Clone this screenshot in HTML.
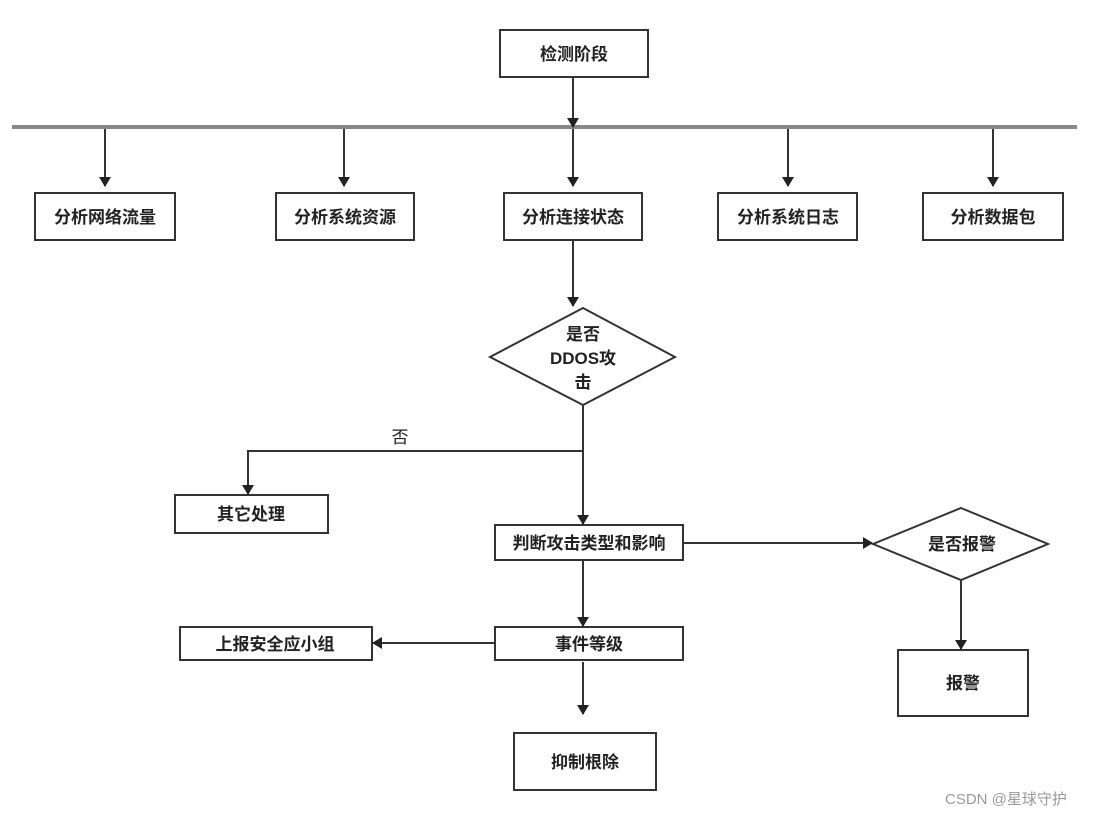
<!DOCTYPE html>
<html><head><meta charset="utf-8"><style>
body{margin:0;background:#fff}
text{font-family:"Liberation Sans","Noto Sans CJK SC",sans-serif;font-weight:bold;font-size:17px;fill:#222}
</style></head><body>
<svg width="1113" height="816" viewBox="0 0 1113 816" xmlns="http://www.w3.org/2000/svg">
<defs><marker id="a" markerWidth="10" markerHeight="12" refX="9" refY="6" orient="auto" markerUnits="userSpaceOnUse"><path d="M0,0 L10,6 L0,12 z" fill="#222"/></marker></defs>
<g stroke="#333" stroke-width="2" fill="#fff">
<rect x="500" y="30" width="148" height="47"/>
<rect x="35" y="193" width="140" height="47"/>
<rect x="276" y="193" width="138" height="47"/>
<rect x="504" y="193" width="138" height="47"/>
<rect x="718" y="193" width="139" height="47"/>
<rect x="923" y="193" width="140" height="47"/>
<polygon points="583,308 675,357 583,405 490,357"/>
<rect x="175" y="495" width="153" height="38"/>
<rect x="495" y="525" width="188" height="35"/>
<polygon points="961,508 1048,544 961,580 873,544"/>
<rect x="898" y="650" width="130" height="66"/>
<rect x="495" y="627" width="188" height="33"/>
<rect x="180" y="627" width="192" height="33"/>
<rect x="514" y="733" width="142" height="57"/>
</g>
<line x1="12" y1="127" x2="1077" y2="127" stroke="#888" stroke-width="4"/>
<g stroke="#333" stroke-width="2" fill="none" marker-end="url(#a)">
<line x1="573" y1="77" x2="573" y2="127"/>
<line x1="105" y1="129" x2="105" y2="186"/>
<line x1="344" y1="129" x2="344" y2="186"/>
<line x1="573" y1="129" x2="573" y2="186"/>
<line x1="788" y1="129" x2="788" y2="186"/>
<line x1="993" y1="129" x2="993" y2="186"/>
<line x1="573" y1="240" x2="573" y2="306"/>
<line x1="583" y1="405" x2="583" y2="524"/>
<polyline points="583,451 248,451 248,494"/>
<line x1="683" y1="543" x2="872" y2="543"/>
<line x1="961" y1="580" x2="961" y2="649"/>
<line x1="583" y1="560" x2="583" y2="626"/>
<line x1="495" y1="643" x2="373" y2="643"/>
<line x1="583" y1="662" x2="583" y2="714"/>
</g>
<g text-anchor="middle">
<text x="574" y="60">检测阶段</text>
<text x="105" y="223">分析网络流量</text>
<text x="345" y="223">分析系统资源</text>
<text x="573" y="223">分析连接状态</text>
<text x="788" y="223">分析系统日志</text>
<text x="993" y="223">分析数据包</text>
<text x="583" y="340">是否</text>
<text x="583" y="364">DDOS攻</text>
<text x="583" y="388">击</text>
<text x="400" y="443" style="font-weight:normal">否</text>
<text x="251" y="520">其它处理</text>
<text x="589" y="549">判断攻击类型和影响</text>
<text x="962" y="550">是否报警</text>
<text x="963" y="689">报警</text>
<text x="589" y="650">事件等级</text>
<text x="275" y="650">上报安全应小组</text>
<text x="585" y="768">抑制根除</text>
</g>
<text x="945" y="804" style="font-weight:normal;font-size:15px;fill:#999">CSDN @星球守护</text>
</svg>
</body></html>
